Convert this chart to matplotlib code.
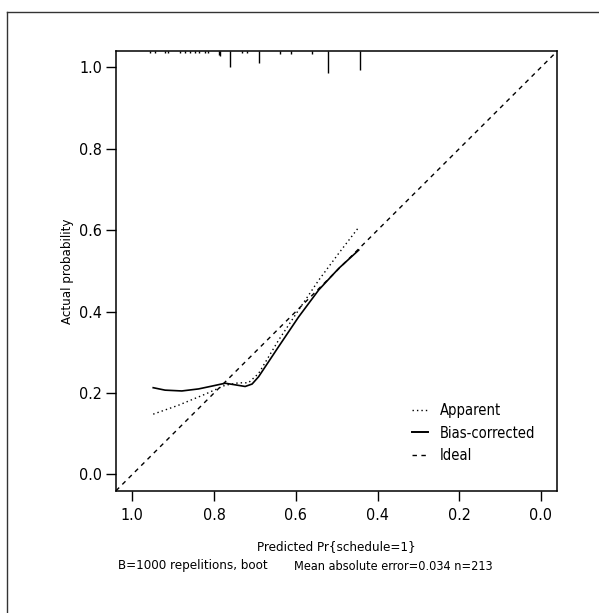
import numpy as np
import matplotlib.pyplot as plt
from matplotlib.lines import Line2D
from matplotlib import font_manager

# calibration curves (predicted -> actual)
apparent_x = [0.949, 0.887, 0.822, 0.773, 0.740, 0.716, 0.691, 0.642, 0.593, 0.544, 0.495, 0.446]
apparent_y = [0.148, 0.170, 0.197, 0.219, 0.225, 0.225, 0.248, 0.330, 0.404, 0.477, 0.543, 0.607]

bias_x = [0.949, 0.920, 0.879, 0.838, 0.805, 0.773, 0.748, 0.724, 0.707, 0.691, 0.642, 0.593, 0.544, 0.495, 0.446]
bias_y = [0.213, 0.207, 0.205, 0.210, 0.217, 0.224, 0.220, 0.216, 0.222, 0.240, 0.314, 0.387, 0.453, 0.506, 0.551]

# ideal line as drawn (axis labels run 1 -> 0)
ideal_x = [1.04, -0.04]
ideal_y = [-0.04, 1.04]

# distribution of predicted probabilities (rug at top), relative frequency
rug_x = [0.957, 0.944, 0.920, 0.912, 0.883, 0.871, 0.859, 0.846, 0.838, 0.822, 0.814,
         0.789, 0.785, 0.762, 0.732, 0.720, 0.691, 0.638, 0.612, 0.560, 0.520, 0.442]
rug_freq = [1, 1, 1, 1, 1, 1, 1, 1, 1, 1, 1,
            2, 2.5, 7.5, 1, 1, 5.5, 1.5, 1.5, 1.5, 10, 8.7]

xticks = [1.0, 0.8, 0.6, 0.4, 0.2, 0.0]
yticks = [0.0, 0.2, 0.4, 0.6, 0.8, 1.0]

# narrow font if there is one
names = set(f.name for f in font_manager.fontManager.ttflist)
condensed = [f.name for f in font_manager.fontManager.ttflist if f.stretch in ('condensed', 'semi-condensed', 400, 300)]
scale = 1.0
if 'Liberation Sans Narrow' in names:
    plt.rcParams['font.family'] = ['Liberation Sans Narrow', 'DejaVu Sans']
elif condensed:
    plt.rcParams['font.family'] = [condensed[0], 'DejaVu Sans']
    plt.rcParams['font.stretch'] = 'condensed'
else:
    plt.rcParams['font.family'] = ['Liberation Sans', 'DejaVu Sans']
    scale = 0.86

fig = plt.figure(figsize=(5.99, 6.13), dpi=100)
ax = fig.add_axes([0.1937, 0.1995, 0.7367, 0.7173])

# outer frame (only left/top visible)
fig.add_artist(Line2D([7.3/599, 7.3/599], [0, 1-12.3/613], transform=fig.transFigure, color='#333333', lw=1.0))
fig.add_artist(Line2D([7.3/599, 1], [1-12.3/613, 1-12.3/613], transform=fig.transFigure, color='#333333', lw=1.0))

ax.plot(ideal_x, ideal_y, color='black', lw=1.0, linestyle=(0, (3.2, 3.2)))
ax.plot(apparent_x, apparent_y, color='black', lw=1.0, linestyle=(0, (1, 2.2)))
ax.plot(bias_x, bias_y, color='black', lw=1.2)

# rug of predictions hanging from top
fmax = max(rug_freq)
for xv, fv in zip(rug_x, rug_freq):
    ax.plot([xv, xv], [1.0, 1.0 - 0.05 * fv / fmax], transform=ax.get_xaxis_transform(),
            color='black', lw=1.0, solid_capstyle='butt')

ax.set_xlim(1.04, -0.04)
ax.set_ylim(-0.04, 1.04)
ax.set_xticks(xticks)
ax.set_yticks(yticks)
ax.set_xticklabels(['%.1f' % t for t in xticks])
ax.set_yticklabels(['%.1f' % t for t in yticks])
ax.tick_params(direction='out', length=7.5, width=1.0, labelsize=11.5 * scale, color='black')
ax.tick_params(axis='x', pad=5)
ax.tick_params(axis='y', pad=2.5)
for s in ax.spines.values():
    s.set_linewidth(1.1)

handles = [Line2D([], [], color='black', lw=1.0, linestyle=(0, (1, 2.2))),
           Line2D([], [], color='black', lw=1.4),
           Line2D([], [], color='black', lw=1.0, linestyle=(0, (3.2, 3.2)))]
ax.legend(handles, ['Apparent', 'Bias-corrected', 'Ideal'], frameon=False, fontsize=10.5 * scale,
          handlelength=1.1, handletextpad=0.8, labelspacing=0.5,
          loc='upper left', bbox_to_anchor=((405-116)/441.3, 1-(396-51)/439.7), borderpad=0)

fs = 9.5 * scale
fig.text(68/599, 1-271/613, 'Actual probability', rotation=90, ha='center', va='center', fontsize=fs)
fig.text(336.6/599, 1-547/613, 'Predicted Pr{schedule=1}', ha='center', va='center', fontsize=fs)
fig.text(118/599, 1-566/613, 'B=1000 repelitions, boot', ha='left', va='center', fontsize=fs)
fig.text(294/599, 1-566/613, 'Mean absolute error=0.034 n=213', ha='left', va='center', fontsize=fs * 0.96)

fig.savefig('out.png', dpi=100)
